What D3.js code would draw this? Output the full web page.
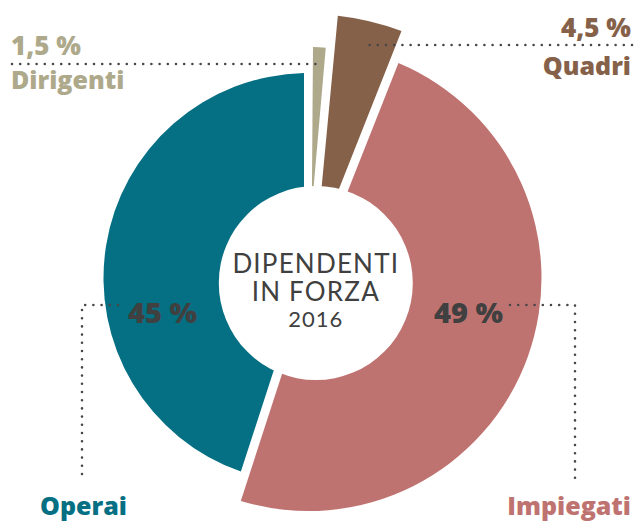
<!DOCTYPE html>
<html>
<head>
<meta charset="utf-8">
<script src="https://cdn.jsdelivr.net/npm/d3@7"></script>
<style>
  html, body { margin: 0; padding: 0; background: #fff; }
  svg { display: block; }
</style>
</head>
<body>
<script>
// Staff by category, 2016 (percent of total)
const categories = ["Dirigenti", "Quadri", "Impiegati", "Operai"];
const values = [1.5, 4.5, 49, 45];
const valueLabels = ["1,5 %", "4,5 %", "49 %", "45 %"];
const titleLines = ["DIPENDENTI", "IN FORZA", "2016"];

const W = 635, H = 522;
const colors = {
  Dirigenti: "#aea98b",
  Quadri: "#86614a",
  Impiegati: "#bf7371",
  Operai: "#056f83"
};
// each wedge has its own outer radius
const outerR = { Dirigenti: 231, Quadri: 264, Impiegati: 233, Operai: 205 };
const cx = 308.5, cy = 278;
const textDark = "#404040";

const svg = d3.select("body").append("svg")
  .attr("width", W).attr("height", H);

const data = categories.map((c, i) => ({ cat: c, value: values[i], label: valueLabels[i] }));

const pie = d3.pie().sort(null).value(d => d.value);
const arcs = pie(data);

const arc = d3.arc()
  .innerRadius(70)
  .outerRadius(d => outerR[d.data.cat])
  .padRadius(200)
  .padAngle(0.045);

const g = svg.append("g").attr("transform", `translate(${cx},${cy})`);
g.selectAll("path.slice")
  .data(arcs)
  .join("path")
  .attr("class", "slice")
  .attr("d", arc)
  .attr("fill", d => colors[d.data.cat]);

// white hub with the title
const hub = svg.append("g").attr("transform", "translate(315.8,283)");
hub.append("circle").attr("r", 97).attr("fill", "#fff");
const title = hub.append("text")
  .attr("text-anchor", "middle")
  .attr("fill", textDark)
  .style("font-family", "Lato, 'Open Sans', sans-serif");
title.append("tspan").attr("x", 0).attr("y", -10)
  .style("font-size", "26px").style("letter-spacing", "1.2px").text(titleLines[0]);
title.append("tspan").attr("x", 0).attr("y", 18)
  .style("font-size", "26px").style("letter-spacing", "1.2px").text(titleLines[1]);
title.append("tspan").attr("x", 0).attr("y", 44)
  .style("font-size", "22px").style("letter-spacing", "1px").text(titleLines[2]);

// dotted leader lines
const dots = svg.append("g")
  .attr("fill", "none")
  .attr("stroke", "#474747")
  .attr("stroke-width", 2.6)
  .attr("stroke-linecap", "round")
  .attr("stroke-dasharray", "0 8.2");

const leaders = [
  [[12, 64], [319, 64]],
  [[632, 45], [366, 45]],
  [[118, 305], [82, 305], [82, 482]],
  [[510, 305], [575, 305], [575, 482]]
];
dots.selectAll("path")
  .data(leaders)
  .join("path")
  .attr("d", d => d3.line()(d));

const labelFont = "'Open Sans', 'Noto Sans', sans-serif";

function label(x, y, text, color, size, anchor) {
  svg.append("text")
    .attr("x", x).attr("y", y)
    .attr("text-anchor", anchor)
    .attr("fill", color)
    .style("font-family", labelFont)
    .style("font-weight", 800)
    .style("font-size", size + "px")
    .text(text);
}

const byCat = Object.fromEntries(data.map(d => [d.cat, d]));

// Dirigenti
label(11, 55, byCat.Dirigenti.label, colors.Dirigenti, 26, "start");
label(11, 89, byCat.Dirigenti.cat, colors.Dirigenti, 25, "start");
// Quadri
label(631, 37, byCat.Quadri.label, colors.Quadri, 26, "end");
label(631, 75, byCat.Quadri.cat, colors.Quadri, 25, "end");
// Operai / Impiegati values inside the ring
label(128, 323, byCat.Operai.label, textDark, 29, "start");
label(503, 323, byCat.Impiegati.label, textDark, 29, "end");
// Operai / Impiegati names at the bottom
label(40, 515, byCat.Operai.cat, colors.Operai, 25, "start");
label(631, 515, byCat.Impiegati.cat, colors.Impiegati, 25, "end");
</script>
</body>
</html>
